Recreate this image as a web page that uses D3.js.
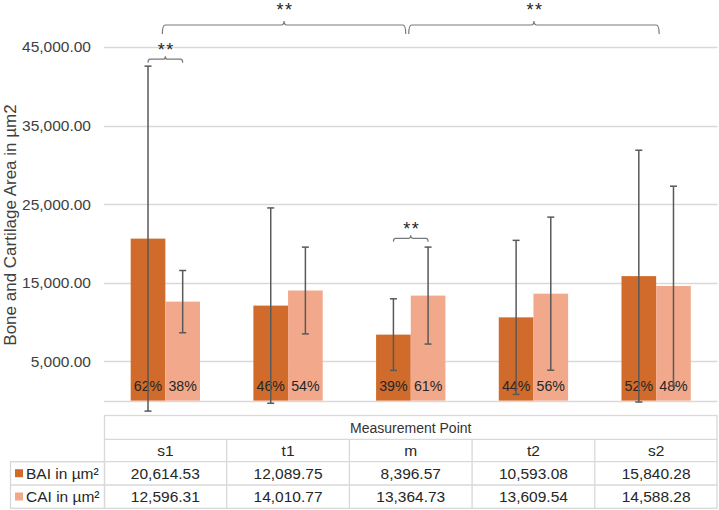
<!DOCTYPE html>
<html>
<head>
<meta charset="utf-8">
<script src="https://cdn.jsdelivr.net/npm/d3@7"></script>
<style>
  html, body { margin: 0; padding: 0; background: #fff; }
  svg { display: block; font-family: "Liberation Sans", Arial, sans-serif; }
</style>
</head>
<body>
<svg id="chart" width="719" height="510"></svg>
<script>
// ---- data ----
const categories = ["s1", "t1", "m", "t2", "s2"];
const seriesNames = ["BAI in µm²", "CAI in µm²"];
const baiValues = [20614.53, 12089.75, 8396.57, 10593.08, 15840.28];
const caiValues = [12596.31, 14010.77, 13364.73, 13609.54, 14588.28];
const baiSD = [21950, 12430, 4560, 9800, 16020];
const caiSD = [3960, 5520, 6170, 9740, 12700];
const baiPct = ["62%", "46%", "39%", "44%", "52%"];
const caiPct = ["38%", "54%", "61%", "56%", "48%"];
const yTicks = [5000, 15000, 25000, 35000, 45000];
const yTitle = "Bone and Cartilage Area in µm2";
const tableHeader = "Measurement Point";
// significance brackets
const brackets = [
  { from: "s1", fs: 0, to: "s1", ts: 1, y: 43450, big: false },
  { from: "m",  fs: 0, to: "m",  ts: 1, y: 20650, big: false },
  { from: "s1", fs: -1, to: "m", ts: -1, y: 47800, big: true, dl: -3, dr: -5 },
  { from: "m",  fs: -1, to: "s2", ts: -1, y: 47800, big: true, dl: -2, dr: 3 }
];

const colors = ["#D16B2B", "#F2A98B"];
const svg = d3.select("#chart");

const plotL = 104, plotR = 717.5;
const x0 = d3.scaleBand().domain(categories).range([plotL, plotR]).paddingInner(0.435).paddingOuter(0.2175);
const x1 = d3.scaleBand().domain([0, 1]).range([0, x0.bandwidth()]);
const y = d3.scaleLinear().domain([0, 45000]).range([400.6, 47]);

// gridlines
const grid = svg.append("g");
grid.selectAll("line").data([0].concat(yTicks)).join("line")
  .attr("x1", plotL).attr("x2", plotR)
  .attr("y1", d => Math.round(y(d)) + 0.5).attr("y2", d => Math.round(y(d)) + 0.5)
  .attr("stroke", "#d9d9d9").attr("stroke-width", 1.3);

// y axis labels
const yAxis = d3.axisLeft(y).tickValues(yTicks).tickSize(0).tickPadding(0)
  .tickFormat(d3.format(",.2f"));
const yg = svg.append("g").attr("transform", "translate(91,0)").call(yAxis);
yg.select(".domain").remove();
yg.selectAll("text").attr("font-size", "15.5px").attr("fill", "#404040")
  .attr("font-family", "Liberation Sans, Arial, sans-serif");

// y title
svg.append("text")
  .attr("transform", "translate(15.5,225) rotate(-90)")
  .attr("text-anchor", "middle")
  .attr("font-size", "17px").attr("fill", "#404040")
  .text(yTitle);

// bars
const seriesData = [baiValues, caiValues];
const sdData = [baiSD, caiSD];
const pctData = [baiPct, caiPct];
seriesData.forEach((vals, si) => {
  svg.append("g").selectAll("rect").data(categories).join("rect")
    .attr("x", c => x0(c) + x1(si))
    .attr("width", x1.bandwidth())
    .attr("y", (c, i) => y(vals[i]))
    .attr("height", (c, i) => y(0) - y(vals[i]))
    .attr("fill", colors[si]);
});

// percent labels
pctData.forEach((p, si) => {
  svg.append("g").selectAll("text").data(categories).join("text")
    .attr("x", c => x0(c) + x1(si) + x1.bandwidth() / 2)
    .attr("y", 390.5)
    .attr("text-anchor", "middle")
    .attr("font-size", "14.2px").attr("fill", "#262626")
    .text((c, i) => p[i]);
});

// error bars
seriesData.forEach((vals, si) => {
  const g = svg.append("g").attr("stroke", "#595959").attr("stroke-width", 1.5).attr("fill", "none");
  categories.forEach((c, i) => {
    const cx = x0(c) + x1(si) + x1.bandwidth() / 2;
    const top = y(vals[i] + sdData[si][i]);
    const bot = y(vals[i] - sdData[si][i]);
    g.append("line").attr("x1", cx).attr("x2", cx).attr("y1", top).attr("y2", bot);
    g.append("line").attr("x1", cx - 3.5).attr("x2", cx + 3.5).attr("y1", top).attr("y2", top);
    g.append("line").attr("x1", cx - 3.5).attr("x2", cx + 3.5).attr("y1", bot).attr("y2", bot);
  });
});

// significance brackets
function bx(cat, s, d) {
  if (s < 0) return x0(cat) + x0.bandwidth() / 2 + (d || 0);
  return x0(cat) + x1(s) + x1.bandwidth() / 2;
}
brackets.forEach(b => {
  const xa = bx(b.from, b.fs, b.dl), xb = bx(b.to, b.ts, b.dr);
  const yh = y(b.y);
  const drop = b.big ? 9 : 3.5;
  const up = b.big ? 4 : 3;
  const r = b.big ? 3 : 2;
  const xm = (xa + xb) / 2;
  const p = d3.path();
  p.moveTo(xa, yh + drop);
  p.quadraticCurveTo(xa, yh, xa + r, yh);
  p.lineTo(xm - r, yh);
  p.quadraticCurveTo(xm, yh, xm, yh - up);
  p.quadraticCurveTo(xm, yh, xm + r, yh);
  p.lineTo(xb - r, yh);
  p.quadraticCurveTo(xb, yh, xb, yh + drop);
  svg.append("path").attr("d", p.toString())
    .attr("fill", "none").attr("stroke", "#7a7a7a").attr("stroke-width", 1.2);
  svg.append("text")
    .attr("x", xm + 1).attr("y", yh - (b.big ? 9 : 3.5))
    .attr("text-anchor", "middle")
    .attr("font-size", "18px").attr("letter-spacing", "1.5px")
    .attr("fill", "#262626")
    .text("**");
});

// data table
const rowY = [415.5, 439.3, 461.7, 485, 508.3];
const tb = svg.append("g");
const border = "#d9d9d9";
tb.append("rect").attr("x", plotL + 0.5).attr("y", rowY[0]).attr("width", plotR - plotL - 1)
  .attr("height", rowY[4] - rowY[0]).attr("fill", "none").attr("stroke", border).attr("stroke-width", 1.3);
tb.append("rect").attr("x", 10.5).attr("y", rowY[2]).attr("width", plotL - 10)
  .attr("height", rowY[4] - rowY[2]).attr("fill", "none").attr("stroke", border).attr("stroke-width", 1.3);
[1, 2, 3].forEach(k => {
  tb.append("line").attr("x1", k >= 2 ? 10.5 : plotL).attr("x2", plotR)
    .attr("y1", rowY[k]).attr("y2", rowY[k]).attr("stroke", border).attr("stroke-width", 1.3);
});
const step = x0.step();
categories.slice(1).forEach((c, i) => {
  const xv = plotL + step * (i + 1);
  tb.append("line").attr("x1", xv).attr("x2", xv).attr("y1", rowY[1]).attr("y2", rowY[4])
    .attr("stroke", border).attr("stroke-width", 1.3);
});
tb.append("text").attr("x", (plotL + plotR) / 2).attr("y", rowY[0] + 17.5)
  .attr("text-anchor", "middle").attr("font-size", "14px").attr("fill", "#333")
  .text(tableHeader);
tb.selectAll("text.cat").data(categories).join("text").attr("class", "cat")
  .attr("x", c => x0(c) + x0.bandwidth() / 2).attr("y", rowY[1] + 17)
  .attr("text-anchor", "middle").attr("font-size", "15.5px").attr("fill", "#262626")
  .text(c => c);
const fmt = d3.format(",.2f");
seriesData.forEach((vals, si) => {
  const ry = rowY[2 + si];
  tb.selectAll("text.v" + si).data(categories).join("text").attr("class", "v" + si)
    .attr("x", c => x0(c) + x0.bandwidth() / 2).attr("y", ry + 17)
    .attr("text-anchor", "middle").attr("font-size", "15.5px").attr("fill", "#262626")
    .text((c, i) => fmt(vals[i]));
  tb.append("rect").attr("x", 15).attr("y", ry + 7.5).attr("width", 8).attr("height", 8).attr("fill", colors[si]);
  tb.append("text").attr("x", 26).attr("y", ry + 17).attr("font-size", "15.5px").attr("fill", "#262626")
    .text(seriesNames[si]);
});
</script>
</body>
</html>
